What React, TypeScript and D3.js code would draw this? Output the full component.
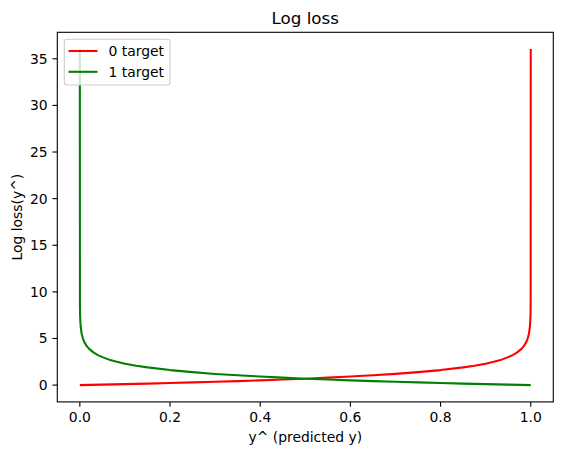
import React from "react";
import * as d3 from "d3";

const greenX = [0, 0.0002, 0.0005, 0.001, 0.002, 0.004, 0.007, 0.01, 0.015, 0.02, 0.03, 0.04, 0.05, 0.065, 0.08, 0.1, 0.125, 0.15, 0.2, 0.25, 0.3, 0.35, 0.4, 0.45, 0.5, 0.55, 0.6, 0.65, 0.7, 0.75, 0.8, 0.85, 0.9, 0.95, 1.0];
const greenLoss = [36.04, 8.52, 7.6, 6.91, 6.21, 5.52, 4.96, 4.61, 4.2, 3.91, 3.51, 3.22, 3.0, 2.73, 2.53, 2.3, 2.08, 1.9, 1.61, 1.39, 1.2, 1.05, 0.92, 0.8, 0.69, 0.6, 0.51, 0.43, 0.36, 0.29, 0.22, 0.16, 0.105, 0.05, 0];

const redX = [0, 0.05, 0.1, 0.15, 0.2, 0.25, 0.3, 0.35, 0.4, 0.45, 0.5, 0.55, 0.6, 0.65, 0.7, 0.75, 0.8, 0.85, 0.875, 0.9, 0.92, 0.935, 0.95, 0.96, 0.97, 0.98, 0.985, 0.99, 0.993, 0.996, 0.998, 0.999, 0.9995, 0.9998, 1.0];
const redLoss = [0, 0.05, 0.105, 0.16, 0.22, 0.29, 0.36, 0.43, 0.51, 0.6, 0.69, 0.8, 0.92, 1.05, 1.2, 1.39, 1.61, 1.9, 2.08, 2.3, 2.53, 2.73, 3.0, 3.22, 3.51, 3.91, 4.2, 4.61, 4.96, 5.52, 6.21, 6.91, 7.6, 8.52, 36.04];

const xTicks = [0.0, 0.2, 0.4, 0.6, 0.8, 1.0];
const yTicks = [0, 5, 10, 15, 20, 25, 30, 35];
const seriesNames = ["0 target", "1 target"];
const seriesColors = ["#ff0000", "#008000"];
const titleText = "Log loss";
const xLabel = "y^ (predicted y)";
const yLabel = "Log loss(y^)";

export default function App() {
  const W = 562, H = 455;
  const left = 57.3, right = 553.3, top = 32.3, bottom = 401.9;
  const font = "DejaVu Sans, sans-serif";
  const yMax = d3.max(redLoss)!;
  const x = d3.scaleLinear().domain([-0.05, 1.05]).range([left, right]);
  const y = d3.scaleLinear().domain([-0.05 * yMax, yMax * 1.05]).range([bottom, top]);
  const line = d3.line<[number, number]>().x(d => x(d[0])).y(d => y(d[1]));
  const red = redX.map((v, i) => [v, redLoss[i]] as [number, number]);
  const green = greenX.map((v, i) => [v, greenLoss[i]] as [number, number]);
  const series = [red, green];
  return (
    <svg width={W} height={H} style={{ position: "absolute", left: 0, top: 0, background: "#fff" }} fontFamily={font}>
      <rect x={0} y={0} width={W} height={H} fill="#fff" />
      <defs>
        <clipPath id="clip">
          <rect x={left} y={top} width={right - left} height={bottom - top} />
        </clipPath>
      </defs>
      <g clipPath="url(#clip)">
        {series.map((s, i) => (
          <path key={i} d={line(s)!} fill="none" stroke={seriesColors[i]} strokeWidth={2.08} strokeLinejoin="round" strokeLinecap="butt" />
        ))}
      </g>
      <rect x={left} y={top} width={right - left} height={bottom - top} fill="none" stroke="#000" strokeWidth={1.1} />
      {xTicks.map(t => (
        <g key={t}>
          <line x1={x(t)} x2={x(t)} y1={bottom} y2={bottom + 4.86} stroke="#000" strokeWidth={1.1} />
          <text x={x(t)} y={bottom + 9.7} dy="0.76em" textAnchor="middle" fontSize={13.9} fill="#000">{t.toFixed(1)}</text>
        </g>
      ))}
      {yTicks.map(t => (
        <g key={t}>
          <line x1={left - 4.86} x2={left} y1={y(t)} y2={y(t)} stroke="#000" strokeWidth={1.1} />
          <text x={left - 9.7} y={y(t)} dy="0.35em" textAnchor="end" fontSize={13.9} fill="#000">{t}</text>
        </g>
      ))}
      <text x={(left + right) / 2} y={top - 8.3} textAnchor="middle" fontSize={16.7} fill="#000">{titleText}</text>
      <text x={(left + right) / 2} y={442} textAnchor="middle" fontSize={13.9} fill="#000">{xLabel}</text>
      <text transform={`translate(22,${(top + bottom) / 2}) rotate(-90)`} textAnchor="middle" fontSize={13.9} fill="#000">{yLabel}</text>
      <g>
        <rect x={64.3} y={39.3} width={105.7} height={45.7} rx={2.8} fill="#fff" fillOpacity={0.8} stroke="#cccccc" strokeWidth={1.1} />
        {seriesNames.map((n, i) => (
          <g key={n}>
            <line x1={68.5} x2={97.5} y1={51 + i * 20.8} y2={51 + i * 20.8} stroke={seriesColors[i]} strokeWidth={2.08} />
            <text x={108.5} y={51 + i * 20.8} dy="0.35em" fontSize={13.9} fill="#000">{n}</text>
          </g>
        ))}
      </g>
    </svg>
  );
}
